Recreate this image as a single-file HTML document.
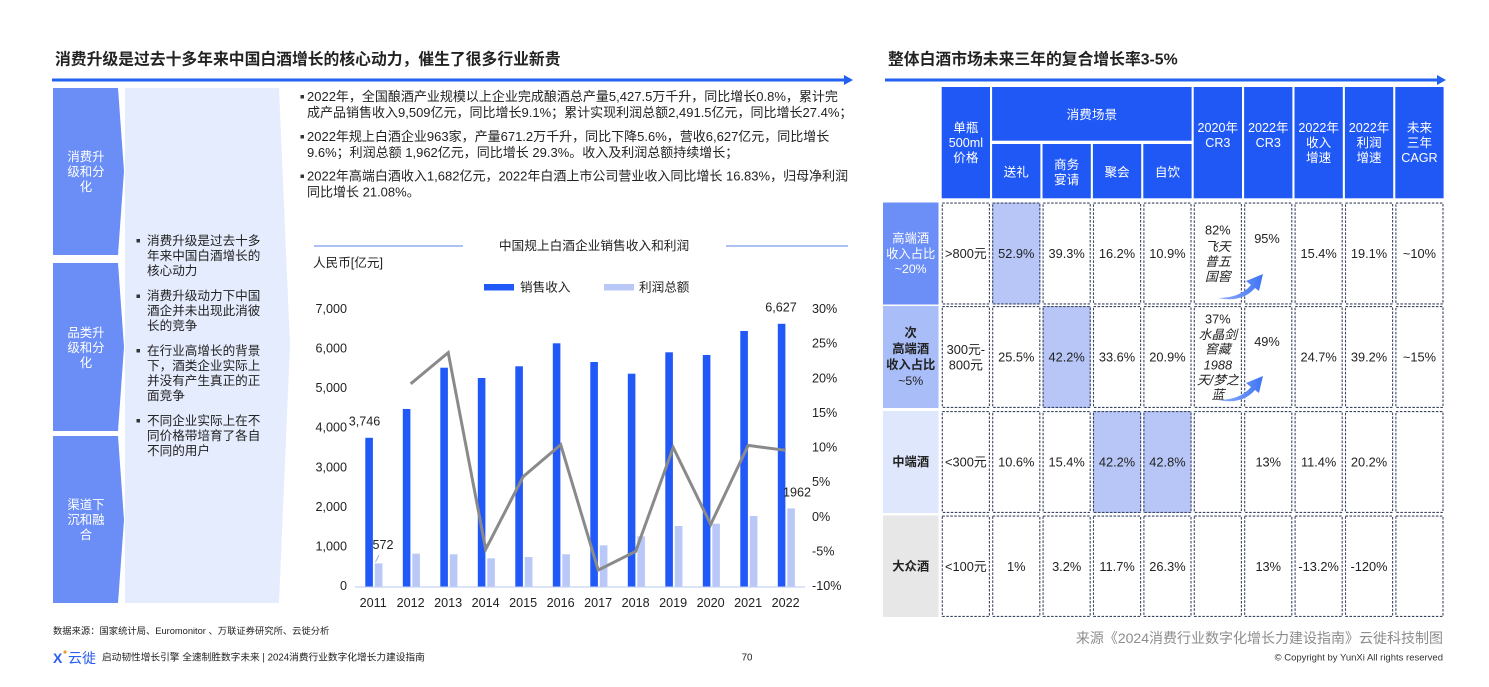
<!DOCTYPE html>
<html><head><meta charset="utf-8">
<style>
html,body{margin:0;padding:0;background:#fff;}
svg{display:block;font-family:"Liberation Sans","Noto Sans CJK SC",sans-serif;}
text{dominant-baseline:central;}
.t{fill:#222;}
.w{fill:#fff;}
.c{text-anchor:middle;}
.e{text-anchor:end;}
.b{font-weight:bold;}
.i{font-style:italic;}
</style></head><body>
<svg width="1489" height="687" viewBox="0 0 1489 687" xmlns="http://www.w3.org/2000/svg">
<rect width="1489" height="687" fill="#fff"/>

<!-- Titles -->
<text x="55" y="60" class="t b" font-size="15.8" fill="#1a1a1a">消费升级是过去十多年来中国白酒增长的核心动力，催生了很多行业新贵</text>
<text x="888" y="60" class="t b" font-size="15.8" fill="#1a1a1a">整体白酒市场未来三年的复合增长率3-5%</text>
<rect x="52" y="78.5" width="794" height="3" fill="#2160f0"/>
<polygon points="844,75 853,80 844,85" fill="#2160f0"/>
<rect x="885" y="78.5" width="554" height="3" fill="#2160f0"/>
<polygon points="1437,75 1446,80 1437,85" fill="#2160f0"/>

<!-- Left blocks -->
<polygon points="53,88 118,88 124,171 118,255 53,255" fill="#6b8ef6"/>
<polygon points="53,263 118,263 124,347 118,431 53,431" fill="#6b8ef6"/>
<polygon points="53,436 118,436 124,520 118,603 53,603" fill="#6b8ef6"/>
<g font-size="12.4" class="w c">
<text x="86" y="157">消费升</text><text x="86" y="172">级和分</text><text x="86" y="187">化</text>
<text x="86" y="333">品类升</text><text x="86" y="348">级和分</text><text x="86" y="363">化</text>
<text x="86" y="505">渠道下</text><text x="86" y="520">沉和融</text><text x="86" y="535">合</text>
</g>
<polygon points="125,88 279,88 290,345 279,603 125,603" fill="#e5ecfd"/>
<g font-size="12.6" class="t">
<rect x="136.5" y="239" width="3.5" height="3.5" fill="#333"/>
<text x="147" y="241">消费升级是过去十多</text><text x="147" y="256">年来中国白酒增长的</text><text x="147" y="271">核心动力</text>
<rect x="136.5" y="294.5" width="3.5" height="3.5" fill="#333"/>
<text x="147" y="296">消费升级动力下中国</text><text x="147" y="311">酒企并未出现此消彼</text><text x="147" y="326">长的竞争</text>
<rect x="136.5" y="349" width="3.5" height="3.5" fill="#333"/>
<text x="147" y="351">在行业高增长的背景</text><text x="147" y="366">下，酒类企业实际上</text><text x="147" y="381">并没有产生真正的正</text><text x="147" y="396">面竞争</text>
<rect x="136.5" y="419" width="3.5" height="3.5" fill="#333"/>
<text x="147" y="421">不同企业实际上在不</text><text x="147" y="436">同价格带培育了各自</text><text x="147" y="451">不同的用户</text>
</g>

<!-- Top bullets -->
<g font-size="13" class="t">
<rect x="300.5" y="95" width="3.5" height="3.5" fill="#333"/>
<text x="307" y="96.5">2022年，全国酿酒产业规模以上企业完成酿酒总产量5,427.5万千升，同比增长0.8%，累计完</text>
<text x="307" y="112.5">成产品销售收入9,509亿元，同比增长9.1%；累计实现利润总额2,491.5亿元，同比增长27.4%；</text>
<rect x="300.5" y="135" width="3.5" height="3.5" fill="#333"/>
<text x="307" y="136.5">2022年规上白酒企业963家，产量671.2万千升，同比下降5.6%，营收6,627亿元，同比增长</text>
<text x="307" y="152.3">9.6%；利润总额 1,962亿元，同比增长 29.3%。收入及利润总额持续增长；</text>
<rect x="300.5" y="174.5" width="3.5" height="3.5" fill="#333"/>
<text x="307" y="176">2022年高端白酒收入1,682亿元，2022年白酒上市公司营业收入同比增长 16.83%，归母净利润</text>
<text x="307" y="192">同比增长 21.08%。</text>
</g>

<!-- Chart title & legend -->
<line x1="314" y1="246" x2="463" y2="246" stroke="#5a86e6" stroke-width="1"/>
<line x1="726" y1="246" x2="848" y2="246" stroke="#5a86e6" stroke-width="1"/>
<text x="594" y="246" class="t c" font-size="12.7">中国规上白酒企业销售收入和利润</text>
<text x="313" y="263" class="t" font-size="12.6">人民币[亿元]</text>
<rect x="484" y="284" width="30" height="6.5" fill="#2159f8"/>
<text x="520" y="287.5" class="t" font-size="12.6">销售收入</text>
<rect x="604" y="284" width="30" height="6.5" fill="#b9c8f7"/>
<text x="639" y="287.5" class="t" font-size="12.6">利润总额</text>

<!-- Axes labels -->
<g font-size="12.6" class="t e">
<text x="347" y="309">7,000</text><text x="347" y="348.6">6,000</text><text x="347" y="388.1">5,000</text>
<text x="347" y="427.7">4,000</text><text x="347" y="467.3">3,000</text><text x="347" y="506.9">2,000</text>
<text x="347" y="546.4">1,000</text><text x="347" y="586">0</text>
</g>
<g font-size="12.6" class="t">
<text x="812" y="309">30%</text><text x="812" y="343.6">25%</text><text x="812" y="378.3">20%</text>
<text x="812" y="412.9">15%</text><text x="812" y="447.5">10%</text><text x="812" y="482.1">5%</text>
<text x="812" y="516.8">0%</text><text x="812" y="551.4">-5%</text><text x="812" y="586">-10%</text>
</g>
<line x1="355" y1="587" x2="805" y2="587" stroke="#c5d3f5" stroke-width="1.2"/>

<!-- Bars -->
<g fill="#2159f8">
<rect x="365.3" y="437.8" width="7.6" height="148.7"/>
<rect x="402.8" y="409.0" width="7.6" height="177.5"/>
<rect x="440.3" y="367.7" width="7.6" height="218.8"/>
<rect x="477.8" y="378.0" width="7.6" height="208.5"/>
<rect x="515.3" y="366.3" width="7.6" height="220.2"/>
<rect x="552.8" y="343.3" width="7.6" height="243.2"/>
<rect x="590.3" y="362.0" width="7.6" height="224.5"/>
<rect x="627.8" y="373.7" width="7.6" height="212.8"/>
<rect x="665.3" y="352.3" width="7.6" height="234.2"/>
<rect x="702.8" y="355.0" width="7.6" height="231.5"/>
<rect x="740.3" y="331.0" width="7.6" height="255.5"/>
<rect x="777.8" y="323.8" width="7.6" height="262.7"/>
</g>
<g fill="#b9c8f7">
<rect x="374.8" y="563.4" width="7.6" height="23.1"/>
<rect x="412.3" y="553.7" width="7.6" height="32.8"/>
<rect x="449.8" y="554.3" width="7.6" height="32.2"/>
<rect x="487.3" y="558.3" width="7.6" height="28.2"/>
<rect x="524.8" y="557.0" width="7.6" height="29.5"/>
<rect x="562.3" y="554.3" width="7.6" height="32.2"/>
<rect x="599.8" y="545.3" width="7.6" height="41.2"/>
<rect x="637.3" y="536.3" width="7.6" height="50.2"/>
<rect x="674.8" y="526.0" width="7.6" height="60.5"/>
<rect x="712.3" y="523.7" width="7.6" height="62.8"/>
<rect x="749.8" y="516.0" width="7.6" height="70.5"/>
<rect x="787.3" y="508.4" width="7.6" height="78.1"/>
</g>
<polyline points="410.7,383.8 448.2,352.6 485.7,549.3 523.2,476.6 560.7,444.7 598.2,570.1 635.7,551.4 673.2,447.5 710.7,524.4 748.2,445.4 785.7,450.3" fill="none" stroke="#8a8a8a" stroke-width="3" stroke-linejoin="miter"/>

<g font-size="12.6" class="t c">
<text x="364.5" y="421.7">3,746</text>
<text x="383" y="545">572</text>
<text x="781" y="307.5">6,627</text>
<text x="797" y="492.5">1962</text>
</g>
<line x1="379" y1="555" x2="375.5" y2="562" stroke="#9ab0f0" stroke-width="1"/>

<g font-size="12.6" class="t c">
<text x="373.2" y="603">2011</text><text x="410.7" y="603">2012</text><text x="448.2" y="603">2013</text>
<text x="485.7" y="603">2014</text><text x="523.2" y="603">2015</text><text x="560.7" y="603">2016</text>
<text x="598.2" y="603">2017</text><text x="635.7" y="603">2018</text><text x="673.2" y="603">2019</text>
<text x="710.7" y="603">2020</text><text x="748.2" y="603">2021</text><text x="785.7" y="603">2022</text>
</g>

<!-- Left footer -->
<text x="53" y="631" class="t" font-size="9.3" fill="#333">数据来源：国家统计局、Euromonitor 、万联证券研究所、云徙分析</text>
<text x="53" y="658" font-size="14" font-weight="bold" fill="#2a5df0">X</text>
<circle cx="65" cy="652" r="1.6" fill="#f29a2e"/>
<text x="68" y="658" font-size="14" fill="#2a5df0">云徙</text>
<text x="102" y="658" class="t" font-size="9.7">启动韧性增长引擎 全速制胜数字未来 | 2024消费行业数字化增长力建设指南</text>
<text x="747" y="658" class="t c" font-size="9.7">70</text>

<!-- Table header -->
<g fill="#2058f6">
<rect x="941.7" y="87" width="48.3" height="111.3"/>
<rect x="992.1" y="87" width="199.5" height="53.7"/>
<rect x="992.1" y="144" width="48.3" height="54.3"/>
<rect x="1042.5" y="144" width="48.3" height="54.3"/>
<rect x="1092.9" y="144" width="48.3" height="54.3"/>
<rect x="1143.3" y="144" width="48.3" height="54.3"/>
<rect x="1193.7" y="87" width="48.3" height="111.3"/>
<rect x="1244.1" y="87" width="48.3" height="111.3"/>
<rect x="1294.5" y="87" width="48.3" height="111.3"/>
<rect x="1344.9" y="87" width="48.3" height="111.3"/>
<rect x="1395.3" y="87" width="48.3" height="111.3"/>
</g>
<g font-size="12.6" class="w c">
<text x="965.85" y="128">单瓶</text><text x="965.85" y="143">500ml</text><text x="965.85" y="158">价格</text>
<text x="1091.85" y="115">消费场景</text>
<text x="1016.25" y="172.7">送礼</text>
<text x="1066.65" y="165">商务</text><text x="1066.65" y="180">宴请</text>
<text x="1117.05" y="172.7">聚会</text>
<text x="1167.45" y="172.7">自饮</text>
<text x="1217.85" y="128">2020年</text><text x="1217.85" y="143">CR3</text>
<text x="1268.25" y="128">2022年</text><text x="1268.25" y="143">CR3</text>
<text x="1318.65" y="128">2022年</text><text x="1318.65" y="143">收入</text><text x="1318.65" y="158">增速</text>
<text x="1369.05" y="128">2022年</text><text x="1369.05" y="143">利润</text><text x="1369.05" y="158">增速</text>
<text x="1419.45" y="128">未来</text><text x="1419.45" y="143">三年</text><text x="1419.45" y="158">CAGR</text>
</g>

<!-- Row labels -->
<rect x="883" y="202.5" width="55.5" height="102" fill="#6c8ff7"/>
<rect x="883" y="306" width="55.5" height="102" fill="#a9bef8"/>
<rect x="883" y="411" width="55.5" height="102" fill="#dfe7fc"/>
<rect x="883" y="515.5" width="55.5" height="101.5" fill="#e7e7e7"/>
<g font-size="12.3" class="c">
<text x="910.7" y="238.3" class="w">高端酒</text><text x="910.7" y="254" class="w">收入占比</text><text x="910.7" y="269" class="w">~20%</text>
<text x="910.7" y="333" class="t b">次</text><text x="910.7" y="349" class="t b">高端酒</text><text x="910.7" y="365" class="t b">收入占比</text><text x="910.7" y="381" class="t">~5%</text>
<text x="910.7" y="462" class="t b">中端酒</text>
<text x="910.7" y="566.5" class="t b">大众酒</text>
</g>

<!-- Highlight cells -->
<g fill="#b7c6f6">
<rect x="992.1" y="202.5" width="48.3" height="102"/>
<rect x="1042.5" y="306" width="48.3" height="102"/>
<rect x="1092.9" y="411" width="48.3" height="102"/>
<rect x="1143.3" y="411" width="48.3" height="102"/>
</g>

<!-- Dashed cell borders -->
<g fill="none" stroke="#3a4560" stroke-width="1.1" stroke-dasharray="2.5,1.5">
<rect x="942.3" y="203.1" width="47.1" height="100.8"/><rect x="992.7" y="203.1" width="47.1" height="100.8"/><rect x="1043.1" y="203.1" width="47.1" height="100.8"/><rect x="1093.5" y="203.1" width="47.1" height="100.8"/><rect x="1143.9" y="203.1" width="47.1" height="100.8"/><rect x="1194.3" y="203.1" width="47.1" height="100.8"/><rect x="1244.7" y="203.1" width="47.1" height="100.8"/><rect x="1295.1" y="203.1" width="47.1" height="100.8"/><rect x="1345.5" y="203.1" width="47.1" height="100.8"/><rect x="1395.9" y="203.1" width="47.1" height="100.8"/>
<rect x="942.3" y="306.6" width="47.1" height="100.8"/><rect x="992.7" y="306.6" width="47.1" height="100.8"/><rect x="1043.1" y="306.6" width="47.1" height="100.8"/><rect x="1093.5" y="306.6" width="47.1" height="100.8"/><rect x="1143.9" y="306.6" width="47.1" height="100.8"/><rect x="1194.3" y="306.6" width="47.1" height="100.8"/><rect x="1244.7" y="306.6" width="47.1" height="100.8"/><rect x="1295.1" y="306.6" width="47.1" height="100.8"/><rect x="1345.5" y="306.6" width="47.1" height="100.8"/><rect x="1395.9" y="306.6" width="47.1" height="100.8"/>
<rect x="942.3" y="411.6" width="47.1" height="100.8"/><rect x="992.7" y="411.6" width="47.1" height="100.8"/><rect x="1043.1" y="411.6" width="47.1" height="100.8"/><rect x="1093.5" y="411.6" width="47.1" height="100.8"/><rect x="1143.9" y="411.6" width="47.1" height="100.8"/><rect x="1194.3" y="411.6" width="47.1" height="100.8"/><rect x="1244.7" y="411.6" width="47.1" height="100.8"/><rect x="1295.1" y="411.6" width="47.1" height="100.8"/><rect x="1345.5" y="411.6" width="47.1" height="100.8"/><rect x="1395.9" y="411.6" width="47.1" height="100.8"/>
<rect x="942.3" y="516.1" width="47.1" height="100.3"/><rect x="992.7" y="516.1" width="47.1" height="100.3"/><rect x="1043.1" y="516.1" width="47.1" height="100.3"/><rect x="1093.5" y="516.1" width="47.1" height="100.3"/><rect x="1143.9" y="516.1" width="47.1" height="100.3"/><rect x="1194.3" y="516.1" width="47.1" height="100.3"/><rect x="1244.7" y="516.1" width="47.1" height="100.3"/><rect x="1295.1" y="516.1" width="47.1" height="100.3"/><rect x="1345.5" y="516.1" width="47.1" height="100.3"/><rect x="1395.9" y="516.1" width="47.1" height="100.3"/>
</g>

<!-- Cell values -->
<g font-size="12.8" class="t c">
<text x="965.85" y="253.5">&gt;800元</text>
<text x="1016.25" y="253.5">52.9%</text><text x="1066.65" y="253.5">39.3%</text><text x="1117.05" y="253.5">16.2%</text><text x="1167.45" y="253.5">10.9%</text>
<text x="1217.85" y="230">82%</text>
<text x="1217.85" y="246.7" class="i">飞天</text><text x="1217.85" y="261.7" class="i">普五</text><text x="1217.85" y="276.5" class="i">国窖</text>
<text x="1267" y="238.3">95%</text>
<text x="1318.65" y="253.5">15.4%</text><text x="1369.05" y="253.5">19.1%</text><text x="1419.45" y="253.5">~10%</text>

<text x="965.85" y="349.5">300元-</text><text x="965.85" y="365">800元</text>
<text x="1016.25" y="357">25.5%</text><text x="1066.65" y="357">42.2%</text><text x="1117.05" y="357">33.6%</text><text x="1167.45" y="357">20.9%</text>
<text x="1217.85" y="319">37%</text>
<text x="1217.85" y="334.3" class="i">水晶剑</text><text x="1217.85" y="349" class="i">窖藏</text><text x="1217.85" y="365" class="i">1988</text><text x="1217.85" y="380" class="i">天/梦之</text><text x="1217.85" y="394.5" class="i">蓝</text>
<text x="1267" y="341.7">49%</text>
<text x="1318.65" y="357">24.7%</text><text x="1369.05" y="357">39.2%</text><text x="1419.45" y="357">~15%</text>

<text x="965.85" y="462">&lt;300元</text>
<text x="1016.25" y="462">10.6%</text><text x="1066.65" y="462">15.4%</text><text x="1117.05" y="462">42.2%</text><text x="1167.45" y="462">42.8%</text>
<text x="1268.25" y="462">13%</text><text x="1318.65" y="462">11.4%</text><text x="1369.05" y="462">20.2%</text>

<text x="965.85" y="566.5">&lt;100元</text>
<text x="1016.25" y="566.5">1%</text><text x="1066.65" y="566.5">3.2%</text><text x="1117.05" y="566.5">11.7%</text><text x="1167.45" y="566.5">26.3%</text>
<text x="1268.25" y="566.5">13%</text><text x="1318.65" y="566.5">-13.2%</text><text x="1369.05" y="566.5">-120%</text>
</g>

<!-- Curved arrows -->
<defs>
<linearGradient id="ag" x1="0" y1="0" x2="1" y2="0">
<stop offset="0" stop-color="#8fb0fb"/><stop offset="1" stop-color="#3f74f4"/>
</linearGradient>
</defs>
<path d="M1218,298 Q1240,298 1251,285 L1246,281 L1263,274 L1259,291 L1255,288 Q1242,303 1218,298 Z" fill="url(#ag)"/>
<path d="M1218,400 Q1240,400 1251,387 L1246,383 L1263,376 L1259,393 L1255,390 Q1242,405 1218,400 Z" fill="url(#ag)"/>

<!-- Right footer -->
<text x="1443" y="638" class="e" font-size="14" fill="#8c8c8c">来源《2024消费行业数字化增长力建设指南》云徙科技制图</text>
<text x="1443" y="658" class="e" font-size="9.5" fill="#333">© Copyright by YunXi All rights reserved</text>
</svg>
</body></html>
